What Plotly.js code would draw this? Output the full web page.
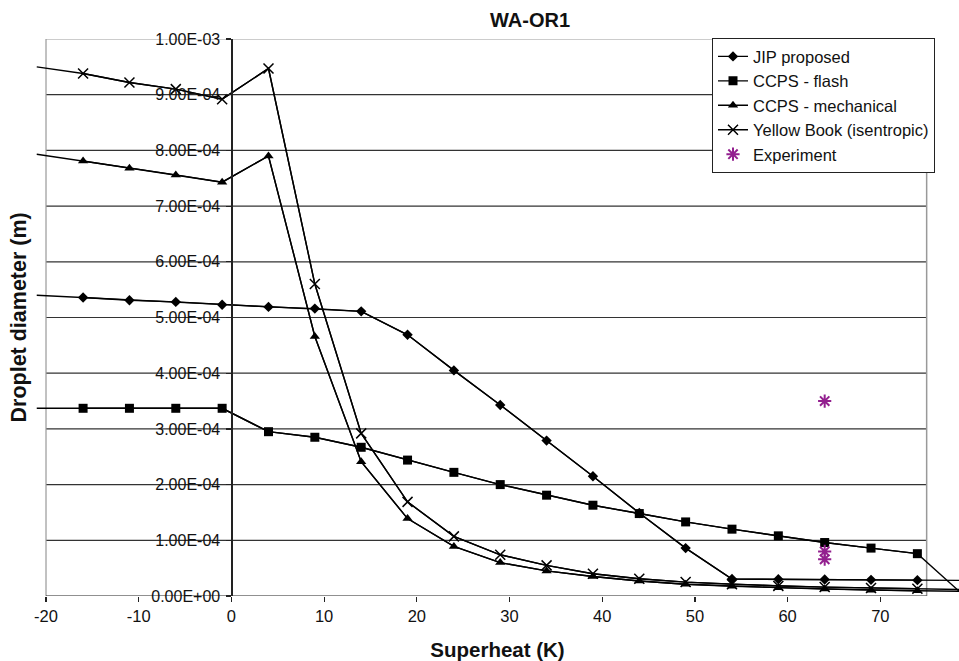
<!DOCTYPE html>
<html>
<head>
<meta charset="utf-8">
<script src="https://cdn.plot.ly/plotly-3.0.1.min.js"></script>
<style>html,body{margin:0;padding:0;background:#fff;}#chart{width:959px;height:661px;}</style>
</head>
<body>
<div id="chart"></div>
<script>
// ---- data ----
var superheat = [-21, -16, -11, -6, -1, 4, 9, 14, 19, 24, 29, 34, 39, 44, 49, 54, 59, 64, 69, 74, 79];
var jipProposed = [5.40e-4, 5.36e-4, 5.31e-4, 5.28e-4, 5.23e-4, 5.19e-4, 5.16e-4, 5.11e-4, 4.69e-4, 4.05e-4, 3.43e-4, 2.79e-4, 2.15e-4, 1.49e-4, 8.6e-5, 3.05e-5, 3.0e-5, 2.95e-5, 2.9e-5, 2.85e-5, 2.8e-5];
var ccpsFlash = [3.37e-4, 3.37e-4, 3.37e-4, 3.37e-4, 3.37e-4, 2.95e-4, 2.85e-4, 2.67e-4, 2.44e-4, 2.22e-4, 2.00e-4, 1.81e-4, 1.63e-4, 1.48e-4, 1.33e-4, 1.20e-4, 1.08e-4, 9.6e-5, 8.6e-5, 7.6e-5, 1.0e-6];
var ccpsMechanical = [7.93e-4, 7.81e-4, 7.68e-4, 7.56e-4, 7.43e-4, 7.90e-4, 4.66e-4, 2.41e-4, 1.39e-4, 8.9e-5, 6.0e-5, 4.5e-5, 3.5e-5, 2.7e-5, 2.1e-5, 1.75e-5, 1.5e-5, 1.25e-5, 1.05e-5, 9.5e-6, 8.5e-6];
var yellowBook = [9.50e-4, 9.38e-4, 9.22e-4, 9.10e-4, 8.92e-4, 9.47e-4, 5.60e-4, 2.92e-4, 1.69e-4, 1.07e-4, 7.4e-5, 5.5e-5, 4.0e-5, 3.1e-5, 2.5e-5, 2.1e-5, 1.8e-5, 1.6e-5, 1.45e-5, 1.3e-5, 1.15e-5];
var experimentX = [64, 64, 64];
var experimentY = [3.5e-4, 8.0e-5, 6.6e-5];

var xTickVals = [-20, -10, 0, 10, 20, 30, 40, 50, 60, 70];
var xTickText = ['-20', '-10', '0', '10', '20', '30', '40', '50', '60', '70'];
var yTickVals = [0, 1e-4, 2e-4, 3e-4, 4e-4, 5e-4, 6e-4, 7e-4, 8e-4, 9e-4, 1e-3];
var yTickText = ['0.00E+00', '1.00E-04', '2.00E-04', '3.00E-04', '4.00E-04', '5.00E-04', '6.00E-04', '7.00E-04', '8.00E-04', '9.00E-04', '1.00E-03'];

// ---- styling / layout ----
var FONT = 'Liberation Sans, Arial, Helvetica, sans-serif';
var boxMin = -20, boxMax = 75;          // visible plot box (Excel plot area)
var xRange = [-21.08, 78.49];
var yPos = (0 - xRange[0]) / (xRange[1] - xRange[0]);

var series = [
  {name: 'JIP proposed', y: jipProposed, symbol: 'diamond', size: 8},
  {name: 'CCPS - flash', y: ccpsFlash, symbol: 'square', size: 9},
  {name: 'CCPS - mechanical', y: ccpsMechanical, symbol: 'triangle-up', size: 9},
  {name: 'Yellow Book (isentropic)', y: yellowBook, symbol: 'x-thin-open', size: 10}
];

var traces = [];
series.forEach(function (s) {
  traces.push({
    x: superheat, y: s.y, type: 'scatter', mode: 'lines',
    line: {color: '#000', width: 1.4}, showlegend: false, hoverinfo: 'skip'
  });
});
series.forEach(function (s) {
  var xs = [], ys = [];
  superheat.forEach(function (v, i) {
    if (v >= boxMin && v <= boxMax) { xs.push(v); ys.push(s.y[i]); }
  });
  traces.push({
    x: xs, y: ys, type: 'scatter', mode: 'lines+markers', name: s.name,
    line: {color: '#000', width: 1.4},
    marker: {symbol: s.symbol, size: s.size, color: '#000', line: {color: '#000', width: s.symbol === 'x-thin-open' ? 1.5 : 0}},
    cliponaxis: false
  });
});
traces.push({
  x: experimentX, y: experimentY, type: 'scatter', mode: 'markers', name: 'Experiment',
  marker: {symbol: 'asterisk-open', size: 11, color: '#93208F', line: {color: '#93208F', width: 2}}
});

var shapes = [];
yTickVals.forEach(function (v, i) {
  if (i === 0) return;
  shapes.push({type: 'line', xref: 'x', yref: 'y', x0: boxMin, x1: boxMax, y0: v, y1: v, layer: 'below',
    line: {color: i === yTickVals.length - 1 ? '#999' : '#333', width: 1.2}});
});
shapes.push({type: 'line', xref: 'x', yref: 'y', x0: boxMin, x1: boxMin, y0: 0, y1: 1e-3, layer: 'below', line: {color: '#999', width: 1.2}});
shapes.push({type: 'line', xref: 'x', yref: 'y', x0: boxMax, x1: boxMax, y0: 0, y1: 1e-3, layer: 'below', line: {color: '#999', width: 1.5}});
shapes.push({type: 'line', xref: 'x', yref: 'y', x0: boxMin, x1: boxMax, y0: 0, y1: 0, layer: 'below', line: {color: '#222', width: 1.2}});

var layout = {
  width: 959, height: 661,
  margin: {l: 36, r: 0, t: 39, b: 65},
  paper_bgcolor: '#fff', plot_bgcolor: 'rgba(0,0,0,0)',
  font: {family: FONT, size: 16, color: '#111'},
  title: {text: '<b>WA-OR1</b>', font: {family: FONT, size: 20, color: '#111'}, x: 530 / 959, xanchor: 'center', y: 1 - 20 / 661, yanchor: 'middle'},
  xaxis: {
    range: xRange, showgrid: false, zeroline: false, showline: false,
    ticks: 'outside', ticklen: 5, tickwidth: 1.2, tickcolor: '#222',
    tickvals: xTickVals, ticktext: xTickText, tickfont: {family: FONT, size: 16.5, color: '#111'},
    title: {text: '<b>Superheat (K)</b>', font: {family: FONT, size: 20.5, color: '#111'}, standoff: 18}
  },
  yaxis: {
    range: [0, 1e-3], anchor: 'free', position: yPos,
    showgrid: false, zeroline: false, showline: true, linecolor: '#222', linewidth: 1.2,
    ticks: 'outside', ticklen: 5, tickwidth: 1.2, tickcolor: '#222',
    tickvals: yTickVals, ticktext: yTickText, ticklabelstandoff: 3,
    tickfont: {family: FONT, size: 16, color: '#111'}
  },
  shapes: shapes,
  annotations: [{
    text: '<b>Droplet diameter (m)</b>', xref: 'paper', yref: 'paper',
    x: (18 - 36) / 923, y: 0.5, xanchor: 'center', yanchor: 'middle', textangle: -90, showarrow: false,
    font: {family: FONT, size: 21.5, color: '#111'}
  }],
  legend: {
    x: (712 - 36) / 923, y: 1.0015, xanchor: 'left', yanchor: 'top',
    bgcolor: '#fff', bordercolor: '#222', borderwidth: 1,
    font: {family: FONT, size: 16.5, color: '#111'}, traceorder: 'normal', tracegroupgap: 0
  },
  showlegend: true
};

Plotly.newPlot('chart', traces, layout, {displayModeBar: false, staticPlot: true});
</script>
</body>
</html>
